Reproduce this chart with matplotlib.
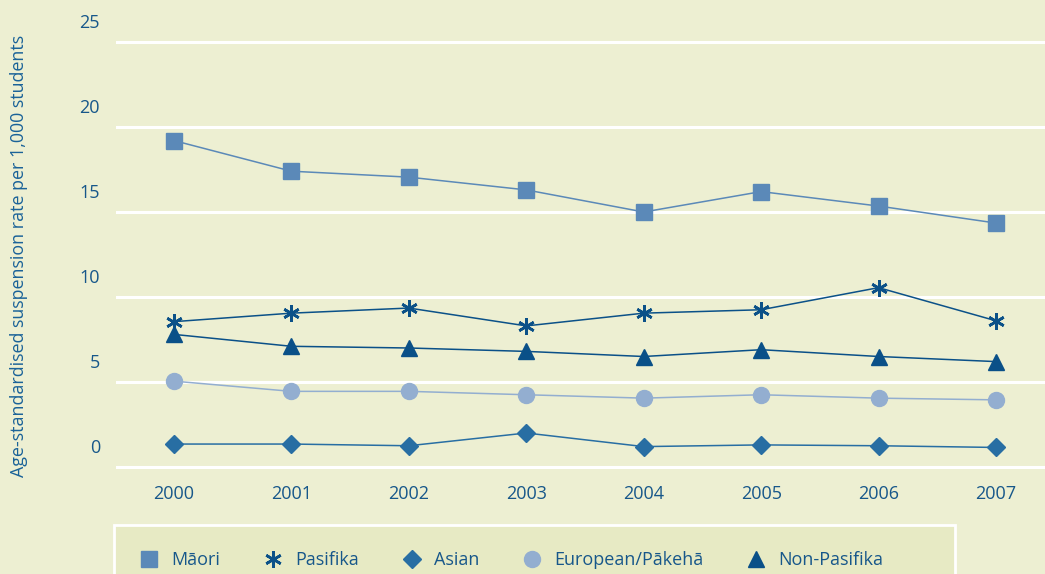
import matplotlib
matplotlib.use("Agg")
import matplotlib.pyplot as plt
import matplotlib.transforms as mtransforms
from matplotlib.lines import Line2D
from matplotlib.patches import Rectangle

plt.rcParams['font.family'] = ['Open Sans', 'DejaVu Sans']

years = [2000, 2001, 2002, 2003, 2004, 2005, 2006, 2007]
maori = [19.2, 17.4, 17.05, 16.3, 15.0, 16.2, 15.35, 14.35]
pasifika = [8.55, 9.05, 9.35, 8.3, 9.05, 9.25, 10.55, 8.6]
asian = [1.35, 1.35, 1.25, 2.0, 1.2, 1.3, 1.25, 1.15]
european = [5.05, 4.45, 4.45, 4.25, 4.05, 4.25, 4.05, 3.95]
non_pasifika = [7.8, 7.1, 7.0, 6.8, 6.5, 6.9, 6.5, 6.2]
yticks = [0, 5, 10, 15, 20, 25]

bg = '#EDEFD2'
txt = '#17578A'

fig = plt.figure(figsize=(10.45, 5.74), dpi=100, facecolor=bg)
ax = fig.add_axes([116 / 1045, 1 - 468.7 / 574, 1 - 116 / 1045, (468.7 - 40.3) / 574])
ax.set_facecolor(bg)
for s in ax.spines.values():
    s.set_visible(False)

ax.set_xlim(1999.506, 2007.417)
ax.set_ylim(-0.1, 25.1)
ax.set_yticks(yticks)
ax.set_xticks(years)
ax.grid(axis='y', color='white', linewidth=2.2)
ax.set_axisbelow(True)
ax.tick_params(length=0, labelsize=13, labelcolor=txt)
ax.tick_params(axis='y', pad=11.5)
ax.tick_params(axis='x', pad=12)

# y tick labels sit above their gridlines
off = mtransforms.ScaledTranslation(0, 21 / 100, fig.dpi_scale_trans)
for lab in ax.get_yticklabels():
    lab.set_transform(lab.get_transform() + off)

series = [
    ("Māori", maori, '#5B89B8', dict(marker='s', ms=12)),
    ("Pasifika", pasifika, '#0B5188', dict(marker=(6, 2, 0), ms=12, mew=1.9)),
    ("Asian", asian, '#286EA3', dict(marker='D', ms=9.5)),
    ("European/Pākehā", european, '#93AED0', dict(marker='o', ms=11.5)),
    ("Non-Pasifika", non_pasifika, '#0A5088', dict(marker='^', ms=11.5)),
]

handles = []
for name, vals, col, mk in series:
    ax.plot(years, vals, color=col, lw=1.1, mfc=col, mec=col, clip_on=False,
            zorder=3, **mk)
    handles.append(Line2D([], [], color=col, mfc=col, mec=col, ls='none', label=name, **mk))

fig.text(19 / 1045, 1 - 256 / 574, "Age-standardised suspension rate per 1,000 students",
         rotation=90, ha='center', va='center', fontsize=12.9, color='#1A6298')

# legend box
box = Rectangle((114 / 1045, -0.05), (955 - 114) / 1045, 0.05 + 49 / 574,
                transform=fig.transFigure, facecolor='#E7EAC4',
                edgecolor='white', linewidth=2, zorder=1)
fig.add_artist(box)
leg = fig.legend(handles=handles, loc='center left', ncol=5, frameon=False,
                 bbox_to_anchor=(140 / 1045, 1 - 560 / 574), bbox_transform=fig.transFigure,
                 borderaxespad=0, borderpad=0, handlelength=1.0, handletextpad=0.75,
                 columnspacing=2.4, fontsize=13)
leg.set_zorder(2)
for t in leg.get_texts():
    t.set_color(txt)

fig.savefig("out.png", dpi=100, facecolor=bg)
